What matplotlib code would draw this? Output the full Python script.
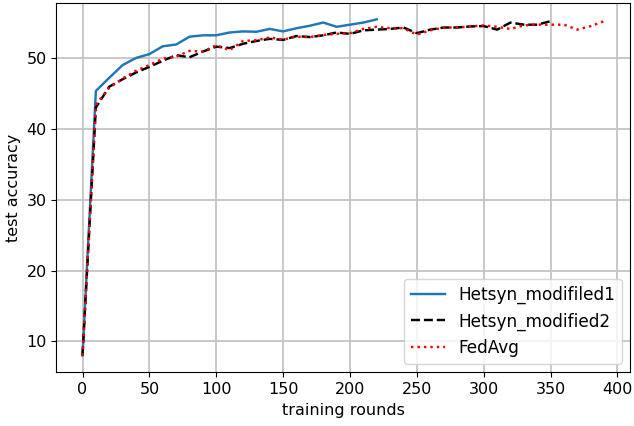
import numpy as np
import matplotlib
matplotlib.use('Agg')
import matplotlib.pyplot as plt

# test accuracy every 10 training rounds
rounds_mod1 = np.arange(0, 230, 10)
acc_mod1 = [8.0, 45.35, 47.2, 49.0, 50.0, 50.55, 51.65, 51.9, 53.0, 53.2,
            53.2, 53.6, 53.75, 53.7, 54.1, 53.75, 54.2, 54.55, 55.0, 54.4,
            54.7, 55.0, 55.45]

rounds_mod2 = np.arange(0, 360, 10)
acc_mod2 = [8.0, 43.0, 45.95, 47.0, 47.95, 48.75, 49.6, 50.4, 50.1, 50.9,
            51.6, 51.4, 52.0, 52.4, 52.7, 52.55, 53.1, 52.95, 53.2, 53.6,
            53.4, 53.9, 54.0, 54.1, 54.3, 53.5, 54.0, 54.3, 54.3, 54.45,
            54.5, 54.0, 55.0, 54.7, 54.7, 55.2]

rounds_fedavg = np.arange(0, 400, 10)
acc_fedavg = [8.0, 43.4, 45.8, 47.1, 48.2, 49.0, 49.9, 50.2, 51.0, 50.9,
              51.8, 51.1, 52.4, 52.5, 52.9, 52.6, 53.0, 52.95, 53.25, 53.4,
              53.5, 54.1, 54.4, 54.2, 54.2, 53.3, 53.9, 54.3, 54.3, 54.45,
              54.6, 54.4, 54.1, 54.6, 54.7, 54.7, 54.7, 54.0, 54.5, 55.2]

plt.rcParams['font.size'] = 11.5

fig, ax = plt.subplots(figsize=(6.34, 4.26), dpi=100)
fig.subplots_adjust(left=0.089, right=0.994, bottom=0.126, top=0.994)

ax.plot(rounds_mod1, acc_mod1, c='#1f77b4', lw=1.75, label='Hetsyn_modifiled1')
ax.plot(rounds_mod2, acc_mod2, c='k', ls='--', lw=1.75, label='Hetsyn_modified2')
ax.plot(rounds_fedavg, acc_fedavg, c='r', ls=':', lw=1.75, label='FedAvg')

ax.grid(True, color='#c4c4c4', lw=1.3)
ax.set_xticks(np.arange(0, 401, 50))
ax.set_yticks(np.arange(10, 51, 10))
ax.set_xlabel('training rounds')
ax.set_ylabel('test accuracy')
ax.legend(loc='lower right', fontsize=12.2)

fig.savefig('out.png', dpi=100)
